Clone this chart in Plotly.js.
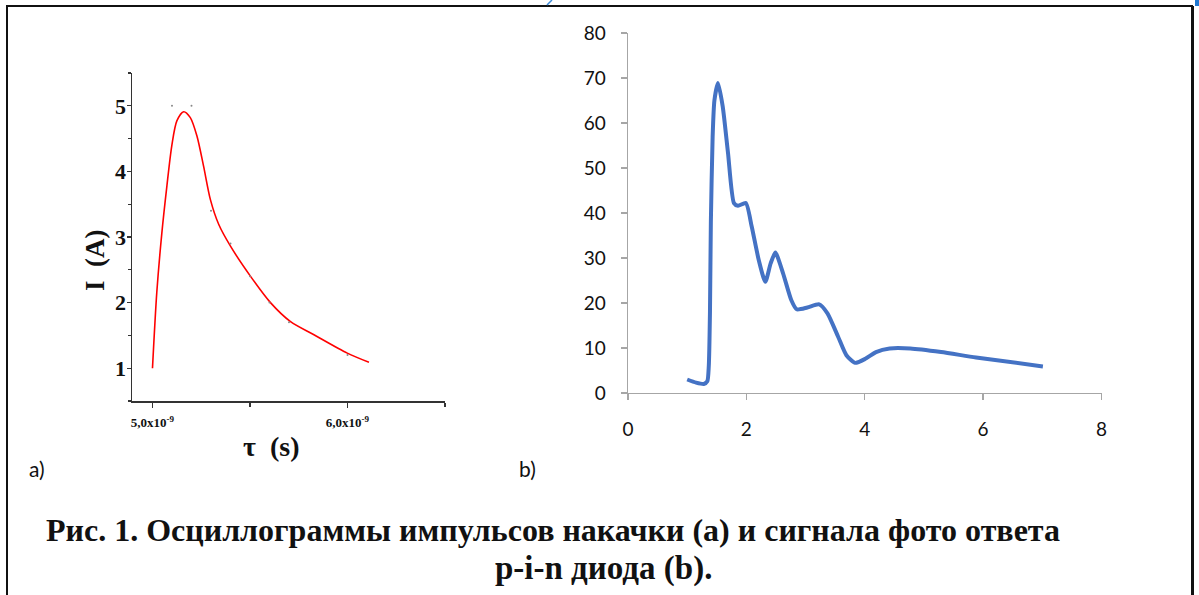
<!DOCTYPE html>
<html>
<head>
<meta charset="utf-8">
<script src="https://cdn.plot.ly/plotly-3.0.1.min.js"></script>
<style>
html,body{margin:0;padding:0;background:#fff;}
#chart{width:1199px;height:595px;}
</style>
</head>
<body>
<div id="chart"></div>
<script>
// ---- Panel (a): pump pulse, time in seconds, current in A ----
const pulseTime = [5.000e-9, 5.022e-9, 5.048e-9, 5.074e-9, 5.099e-9, 5.125e-9, 5.160e-9, 5.194e-9, 5.228e-9, 5.262e-9, 5.297e-9, 5.340e-9, 5.400e-9, 5.503e-9, 5.605e-9, 5.708e-9, 5.828e-9, 5.999e-9, 6.110e-9];
const pulseCurrent = [1.00, 2.15, 3.06, 3.78, 4.39, 4.77, 4.91, 4.82, 4.54, 4.08, 3.57, 3.19, 2.86, 2.40, 2.00, 1.71, 1.51, 1.23, 1.09];
const pulseDotsTime = [5.10e-9, 5.20e-9, 5.30e-9, 5.40e-9, 5.50e-9, 5.60e-9, 5.70e-9, 6.00e-9];
const pulseDotsCurrent = [5.0, 5.0, 3.4, 2.9, 2.4, 2.0, 1.7, 1.2];
const aTickVals = [5e-9, 6e-9];
const aTickText = ["5,0x10<sup>-9</sup>", "6,0x10<sup>-9</sup>"];
const aYTicks = [1, 2, 3, 4, 5];

// ---- Panel (b): p-i-n diode photo response ----
const respX = [1.00, 1.15, 1.28, 1.34, 1.365, 1.385, 1.40, 1.43, 1.46, 1.52, 1.60, 1.69, 1.79, 1.86, 1.99, 2.09, 2.21, 2.32, 2.41, 2.49, 2.62, 2.76, 2.85, 3.03, 3.23, 3.37, 3.55, 3.69, 3.84, 4.01, 4.19, 4.42, 4.77, 5.29, 5.88, 7.01];
const respY = [3.0, 2.3, 2.0, 2.6, 6, 18, 38, 57, 65, 68.9, 63.7, 53.3, 42.2, 41.6, 42.2, 37.0, 29.5, 24.7, 28.8, 31.2, 26.6, 20.6, 18.6, 19.0, 19.7, 17.7, 12.5, 8.4, 6.7, 7.6, 9.1, 9.9, 9.9, 9.1, 7.9, 5.9];

const W = 1199, H = 595;
const px = v => v / W;
const py = v => 1 - v / H;

const serif = "Liberation Serif, Times New Roman, serif";
const sans = "Lato, Carlito, Calibri, sans-serif";

const traces = [
  {x: pulseTime, y: pulseCurrent, xaxis: 'x', yaxis: 'y', mode: 'lines', type: 'scatter',
   line: {color: '#ff0000', width: 1.6, shape: 'spline', smoothing: 0.8}, hoverinfo: 'skip'},
  {x: pulseDotsTime, y: pulseDotsCurrent, xaxis: 'x', yaxis: 'y', mode: 'markers', type: 'scatter',
   marker: {color: '#888', size: 2}, hoverinfo: 'skip'},
  {x: respX, y: respY, xaxis: 'x2', yaxis: 'y2', mode: 'lines', type: 'scatter',
   line: {color: '#4472c4', width: 4, shape: 'spline', smoothing: 0.6}, hoverinfo: 'skip'}
];

const layout = {
  width: W, height: H,
  margin: {l: 0, r: 0, t: 0, b: 0},
  paper_bgcolor: '#fff', plot_bgcolor: '#fff',
  showlegend: false,
  xaxis: {
    domain: [px(132), px(445)], anchor: 'y',
    range: [4.895e-9, 6.5e-9], showgrid: false, zeroline: false,
    showline: true, linecolor: '#333', linewidth: 1.5,
    tickmode: 'array', tickvals: aTickVals, ticktext: aTickText,
    ticks: 'outside', ticklen: 5, tickcolor: '#333', tickwidth: 1.2,
    minor: {dtick: 0.5e-9, tick0: 5e-9, ticks: 'outside', ticklen: 4, tickcolor: '#333', showgrid: false},
    tickfont: {family: serif, size: 13, color: '#111', weight: 'bold'},
    ticklabelstandoff: 4
  },
  yaxis: {
    domain: [py(401), py(73)], anchor: 'x',
    range: [0.5, 5.5], showgrid: false, zeroline: false,
    showline: true, linecolor: '#333', linewidth: 1.5,
    tickmode: 'array', tickvals: aYTicks,
    ticks: 'outside', ticklen: 4, tickcolor: '#333', tickwidth: 1.2,
    minor: {dtick: 0.5, tick0: 0.5, ticks: 'outside', ticklen: 3, tickcolor: '#333', showgrid: false},
    tickfont: {family: serif, size: 22, color: '#111', weight: 'bold'},
    ticklabelstandoff: -4
  },
  xaxis2: {
    domain: [px(628), px(1101.5)], anchor: 'y2',
    range: [0, 8], dtick: 2, showgrid: false, zeroline: false,
    showline: true, linecolor: '#a6a6a6', linewidth: 1.3,
    ticks: 'outside', ticklen: 6, tickcolor: '#a6a6a6', tickwidth: 1.3,
    tickfont: {family: sans, size: 19, color: '#111'},
    ticklabelstandoff: 13
  },
  yaxis2: {
    domain: [py(393), py(33)], anchor: 'x2',
    range: [0, 80], dtick: 10, showgrid: false, zeroline: false,
    showline: true, linecolor: '#a6a6a6', linewidth: 1.3,
    ticks: 'outside', ticklen: 6, tickcolor: '#a6a6a6', tickwidth: 1.3,
    tickfont: {family: sans, size: 19, color: '#111'},
    ticklabelstandoff: 11
  },
  shapes: [
    {type: 'rect', xref: 'paper', yref: 'paper', x0: px(7), x1: px(1192), y0: py(605), y1: py(6),
     line: {color: '#111', width: 2}, fillcolor: 'rgba(0,0,0,0)'},
    {type: 'line', xref: 'paper', yref: 'paper', x0: px(1193), x1: px(1193), y0: py(605), y1: py(6),
     line: {color: '#111', width: 2}},
    {type: 'rect', xref: 'paper', yref: 'paper', x0: px(1195), x1: px(1199), y0: py(6), y1: py(0),
     line: {width: 0}, fillcolor: '#1f78d1'},
    {type: 'line', xref: 'paper', yref: 'paper', x0: px(547), x1: px(552), y0: py(5), y1: py(0),
     line: {color: '#3c8ad8', width: 1.5}}
  ],
  annotations: [
    {text: 'I  (A)', xref: 'paper', yref: 'paper', x: px(95), y: py(260), textangle: -90,
     showarrow: false, xanchor: 'center', yanchor: 'middle',
     font: {family: serif, size: 27, color: '#111', weight: 'bold'}},
    {text: 'τ  (s)', xref: 'paper', yref: 'paper', x: px(271), y: py(446),
     showarrow: false, xanchor: 'center', yanchor: 'middle',
     font: {family: serif, size: 28, color: '#111', weight: 'bold'}},
    {text: 'a)', xref: 'paper', yref: 'paper', x: px(27), y: py(468),
     showarrow: false, xanchor: 'left', yanchor: 'middle',
     font: {family: sans, size: 21, color: '#111'}},
    {text: 'b)', xref: 'paper', yref: 'paper', x: px(517), y: py(468),
     showarrow: false, xanchor: 'left', yanchor: 'middle',
     font: {family: sans, size: 21, color: '#111'}},
    {text: 'Рис. 1. Осциллограммы импульсов накачки (a) и сигнала фото ответа', xref: 'paper', yref: 'paper',
     x: px(553), y: py(530), showarrow: false, xanchor: 'center', yanchor: 'middle',
     font: {family: serif, size: 32, color: '#111', weight: 'bold'}},
    {text: 'p-i-n диода (b).', xref: 'paper', yref: 'paper',
     x: px(603), y: py(568), showarrow: false, xanchor: 'center', yanchor: 'middle',
     font: {family: serif, size: 33, color: '#111', weight: 'bold'}}
  ]
};

Plotly.newPlot('chart', traces, layout, {staticPlot: true, displayModeBar: false});
</script>
</body>
</html>
